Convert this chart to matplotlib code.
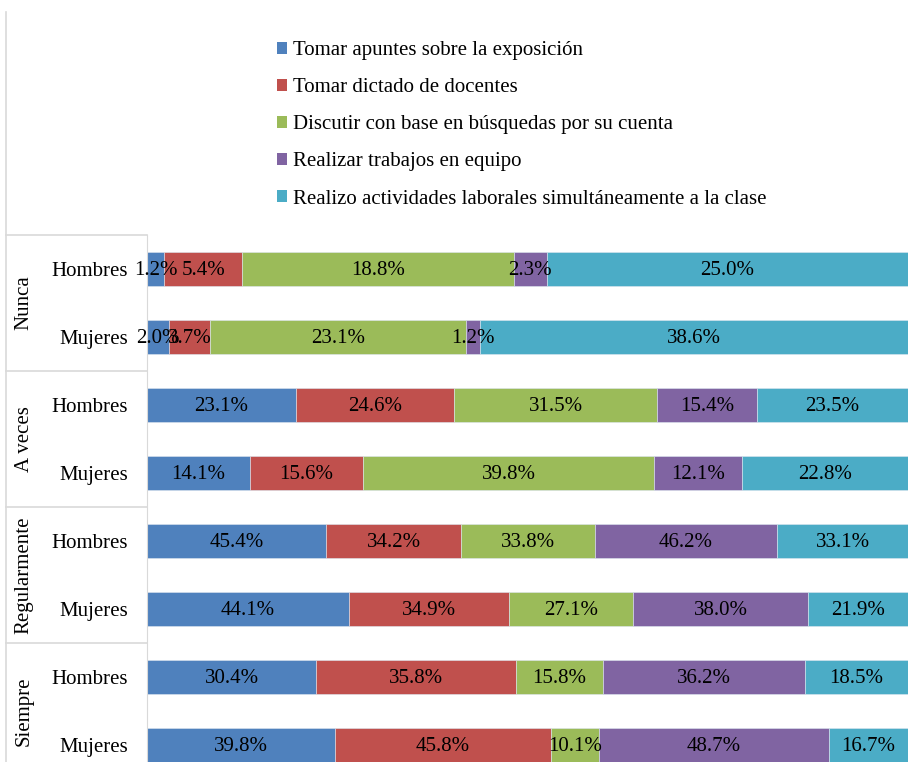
import numpy as np
import matplotlib
matplotlib.use("Agg")
import matplotlib.pyplot as plt
from matplotlib.patches import Patch
from matplotlib.lines import Line2D

# series (legend order) and colours
series = ['Tomar apuntes sobre la exposición',
          'Tomar dictado de docentes',
          'Discutir con base en búsquedas por su cuenta',
          'Realizar trabajos en equipo',
          'Realizo actividades laborales simultáneamente a la clase']
colors = ['#4F81BD', '#C0504D', '#9BBB59', '#8064A2', '#4BACC6']

groups = ['Nunca', 'A veces', 'Regularmente', 'Siempre']
sexes = ['Hombres', 'Mujeres']

# one row per (group, sex), top to bottom; values in %
apuntes   = [1.2, 2.0, 23.1, 14.1, 45.4, 44.1, 30.4, 39.8]
dictado   = [5.4, 3.7, 24.6, 15.6, 34.2, 34.9, 35.8, 45.8]
discutir  = [18.8, 23.1, 31.5, 39.8, 33.8, 27.1, 15.8, 10.1]
equipo    = [2.3, 1.2, 15.4, 12.1, 46.2, 38.0, 36.2, 48.7]
laborales = [25.0, 38.6, 23.5, 22.8, 33.1, 21.9, 18.5, 16.7]

data = np.array([apuntes, dictado, discutir, equipo, laborales])
shares = data / data.sum(axis=0)

W, H = 917, 762
plt.rcParams['font.family'] = ['Liberation Serif', 'DejaVu Serif']
fs = 15

fig = plt.figure(figsize=(W / 100, H / 100), dpi=100)
ax_left, ax_right, ax_top, ax_bot = 147, 908, 235, 779
ax = fig.add_axes([ax_left / W, 1 - ax_bot / H,
                   (ax_right - ax_left) / W, (ax_bot - ax_top) / H])

rows = np.arange(data.shape[1])
left = np.zeros(len(rows))
for i in range(len(series)):
    ax.barh(rows, shares[i], left=left, height=0.51, color=colors[i],
            edgecolor='#dde6f0', linewidth=0.4)
    for r in rows:
        ax.text(left[r] + shares[i][r] / 2, r + 0.02, '%.1f%%' % data[i][r],
                ha='center', va='center', fontsize=fs, color='black')
    left += shares[i]

ax.set_xlim(0, 1)
ax.set_ylim(7.5, -0.5)
ax.set_xticks([])
ax.set_yticks(rows)
ax.set_yticklabels(sexes * len(groups), fontsize=fs)
ax.tick_params(axis='y', length=0, pad=13.5)
for s in ['top', 'right', 'bottom']:
    ax.spines[s].set_visible(False)
ax.spines['left'].set_color('#d9d9d9')

# group labels and separators in the category area
tr = ax.get_yaxis_transform()
x_edge = (6 - ax_left) / (ax_right - ax_left)
x_grp = (24 - ax_left) / (ax_right - ax_left)
for g, name in enumerate(groups):
    ax.text(x_grp, 2 * g + 0.5, name, transform=tr, rotation=90,
            ha='center', va='center', fontsize=fs)
    ax.plot([x_edge, 0], [2 * g - 0.5, 2 * g - 0.5], transform=tr,
            color='#d9d9d9', lw=1.2, clip_on=False)

fig.add_artist(Line2D([6 / W, 6 / W], [0, 1 - 12 / H],
                      transform=fig.transFigure, color='#d9d9d9', lw=1.2))

handles = [Patch(facecolor=c) for c in colors]
fig.legend(handles, series, loc='upper left',
           bbox_to_anchor=(277 / W, 1 - 41 / H), frameon=False,
           fontsize=fs, handlelength=0.5, handleheight=0.5,
           handletextpad=0.25, labelspacing=0.87, borderpad=0,
           borderaxespad=0)

fig.savefig('out.png', dpi=100)
